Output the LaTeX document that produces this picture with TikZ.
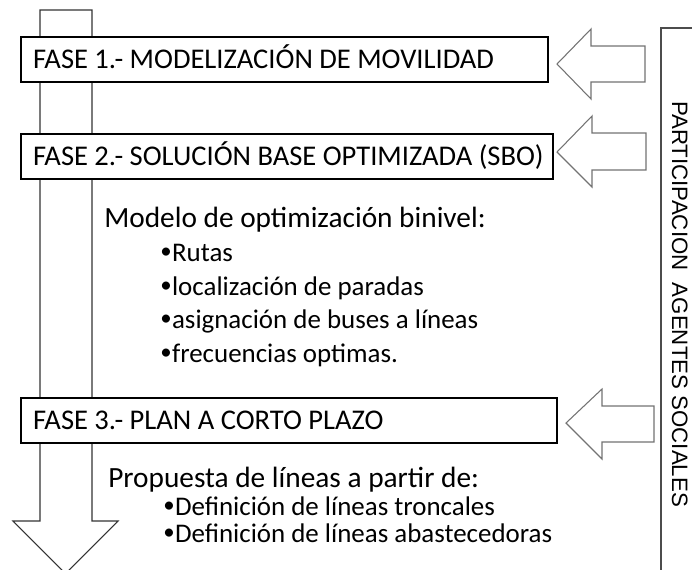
\documentclass[tikz,border=0pt]{standalone}
\usepackage{fontspec}
\usepackage{graphicx}
\setmainfont{Carlito}
\newfontfamily\agfont{Liberation Sans}
\newcommand{\bul}{\raisebox{0.08em}{\scalebox{0.85}{•}}\kern0.3pt}
\begin{document}
\begin{tikzpicture}[x=0.75pt,y=-0.75pt,
  fasebox/.style={draw=black, line width=0.8pt, fill=white, anchor=west, outer sep=0pt,
    inner xsep=9pt, inner ysep=0pt, minimum height=33.75pt,
    text height=13.5pt, text depth=0pt, font=\fontsize{21.4}{24}\selectfont},
  headtext/.style={anchor=base west, inner sep=0pt, font=\fontsize{22}{26}\selectfont},
  bodytext/.style={anchor=base west, inner sep=0pt, font=\fontsize{20.2}{24}\selectfont},
  blockarrow/.style={draw=black!55, line width=0.8pt, fill=white, line join=miter},
  bigarrow/.style={draw=black!80, line width=0.8pt, fill=white, line join=miter}]
\useasboundingbox (0,0) rectangle (692,569);
\clip (0,0) rectangle (692,569);
% big down arrow
\draw[bigarrow] (40,10) -- (92,10) -- (92,521) -- (118,521) -- (65.5,573.5) -- (13,521) -- (40,521) -- cycle;
% phase boxes
\node[fasebox] (f1) at (21,59.5) {\makebox[377.25pt][l]{FASE 1.- MODELIZACIÓN DE MOVILIDAD}};
\node[fasebox] (f2) at (21,156.5) {\makebox[381pt][l]{FASE 2.- SOLUCIÓN BASE OPTIMIZADA (SBO)}};
\node[fasebox] (f3) at (21,420.5) {\makebox[384pt][l]{FASE 3.- PLAN A CORTO PLAZO}};
% body texts
\node[headtext] (m0) at (104,227) {Modelo de optimización binivel:};
\node[bodytext] (m1) at (160,261) {\bul Rutas};
\node[bodytext] (m2) at (160,295) {\bul localización de paradas};
\node[bodytext] (m3) at (160,328) {\bul asignación de buses a líneas};
\node[bodytext] (m4) at (160,362) {\bul frecuencias optimas.};
\node[headtext] (p0) at (108,487) {Propuesta de líneas a partir de:};
\node[bodytext] (p1) at (163,515) {\bul Definición de líneas troncales};
\node[bodytext] (p2) at (163,542) {\bul Definición de líneas abastecedoras};
% left-pointing block arrows
\draw[blockarrow] (557,64) -- (591,29) -- (591,46) -- (645,46) -- (645,82) -- (591,82) -- (591,99) -- cycle;
\draw[blockarrow] (557,152) -- (592,116) -- (592,133) -- (646,133) -- (646,170) -- (592,170) -- (592,187) -- cycle;
\draw[blockarrow] (566,423) -- (602,389) -- (602,406) -- (654,406) -- (654,442) -- (602,442) -- (602,459) -- cycle;
% bracket
\draw[draw=black!70, line width=0.8pt] (661,575) -- (661,28) -- (700,28);
\node[rotate=-90, inner sep=0pt, text height=12pt, text depth=0pt,
  font=\agfont\fontsize{16.7}{18}\selectfont] (ag) at (680,304) {PARTICIPACION\ \ AGENTES SOCIALES};
\end{tikzpicture}
\end{document}
